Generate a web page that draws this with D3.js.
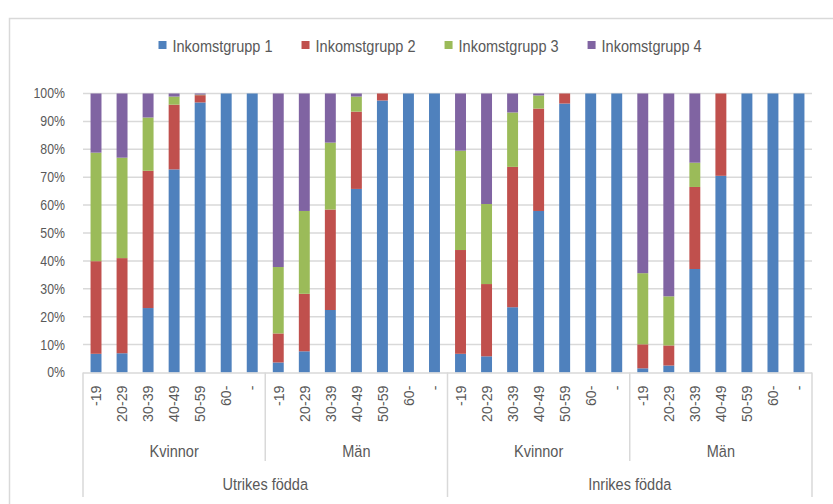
<!DOCTYPE html>
<html>
<head>
<meta charset="utf-8">
<script src="https://cdn.jsdelivr.net/npm/d3@7"></script>
<style>
  html, body { margin: 0; padding: 0; background: #fff; }
  svg { display: block; font-family: "Liberation Sans", Arial, sans-serif; }
</style>
</head>
<body>
<svg id="chart" width="833" height="504"></svg>
<script>
// Födelseland, kön och åldersgrupp
const origins = ["Utrikes födda", "Inrikes födda"];
const sexes = ["Kvinnor", "Män"];
const ages = ["-19", "20-29", "30-39", "40-49", "50-59", "60-", "-"];
const seriesNames = ["Inkomstgrupp 1", "Inkomstgrupp 2", "Inkomstgrupp 3", "Inkomstgrupp 4"];
const seriesColors = ["#4F81BD", "#C0504D", "#9BBB59", "#8064A2"];
const yTicks = [0, 10, 20, 30, 40, 50, 60, 70, 80, 90, 100];

// Andel (%) per stapel: Utrikes Kvinnor, Utrikes Män, Inrikes Kvinnor, Inrikes Män
const grupp1 = [6.7, 6.9, 23.1, 72.8, 96.8, 100, 100,
                3.6, 7.6, 22.4, 65.8, 97.5, 100, 100,
                6.7, 5.8, 23.4, 57.9, 96.4, 100, 100,
                1.5, 2.5, 37.1, 70.5, 100, 100, 100];
const grupp2 = [33.2, 34.1, 49.2, 23.2, 2.6, 0, 0,
                10.4, 20.6, 36.0, 27.7, 2.5, 0, 0,
                37.2, 25.9, 50.3, 36.7, 3.6, 0, 0,
                8.6, 7.2, 29.4, 29.5, 0, 0, 0];
const grupp3 = [38.9, 36.0, 19.1, 2.9, 0.2, 0, 0,
                23.8, 29.7, 24.0, 5.4, 0, 0, 0,
                35.6, 28.7, 19.5, 4.7, 0, 0, 0,
                25.5, 17.6, 8.7, 0, 0, 0, 0];
const grupp4 = [21.2, 23.0, 8.6, 1.1, 0.4, 0, 0,
                62.2, 42.1, 17.6, 1.1, 0, 0, 0,
                20.5, 39.6, 6.8, 0.7, 0, 0, 0,
                64.4, 72.7, 24.8, 0, 0, 0, 0];

const seriesValues = [grupp1, grupp2, grupp3, grupp4];

// Rows for the stack
const rows = [];
origins.forEach((o) => sexes.forEach((s) => ages.forEach((a) => {
  const idx = rows.length;
  const r = { idx, origin: o, sex: s, age: a };
  seriesNames.forEach((n, k) => { r[n] = seriesValues[k][idx]; });
  rows.push(r);
})));

const svg = d3.select("#chart");
const textColor = "#595959";
const lineColor = "#d9d9d9";
const narrow = 0.88; // horizontal squeeze for a condensed look

const plotLeft = 83, plotRight = 812, plotTop = 93.5, plotBottom = 372.5;

const x = d3.scaleBand()
  .domain(rows.map(d => d.idx))
  .range([plotLeft, plotRight])
  .paddingInner(0.58)
  .paddingOuter(0.29);

const y = d3.scaleLinear().domain([0, 100]).range([plotBottom, plotTop]);

// Places a text at (px, py) squeezed horizontally
function placeNarrow(sel, px, py) {
  sel.attr("x", 0).attr("y", 0)
    .attr("transform", (d, i) => {
      const xx = typeof px === "function" ? px(d, i) : px;
      const yy = typeof py === "function" ? py(d, i) : py;
      return `translate(${xx},${yy}) scale(${narrow},1)`;
    });
}

// Chart frame
svg.append("rect")
  .attr("x", 9.5).attr("y", 18.5)
  .attr("width", 900).attr("height", 600)
  .attr("fill", "none").attr("stroke", lineColor).attr("stroke-width", 1.5);

// Gridlines
svg.append("g").selectAll("line")
  .data(yTicks.filter(t => t > 0))
  .join("line")
  .attr("x1", plotLeft).attr("x2", plotRight)
  .attr("y1", d => y(d)).attr("y2", d => y(d))
  .attr("stroke", lineColor).attr("stroke-width", 1.5);

// Y axis labels
const yAxis = d3.axisLeft(y).tickValues(yTicks).tickFormat(d => d + "%").tickSize(0).tickPadding(0);
const gy = svg.append("g").attr("transform", `translate(${plotLeft - 18},0)`).call(yAxis);
gy.select(".domain").remove();
gy.selectAll("text")
  .attr("fill", textColor)
  .style("font-size", "14px")
  .style("font-family", "inherit")
  .attr("x", 0)
  .attr("transform", `scale(${narrow},1)`);

// Stacked bars
const stack = d3.stack().keys(seriesNames);
const layers = stack(rows);
svg.append("g").selectAll("g")
  .data(layers)
  .join("g")
  .attr("fill", (d, i) => seriesColors[i])
  .selectAll("rect")
  .data(d => d)
  .join("rect")
  .attr("x", d => x(d.data.idx))
  .attr("width", x.bandwidth())
  .attr("y", d => y(d[1]))
  .attr("height", d => Math.max(0, y(d[0]) - y(d[1])));

// Category axis baseline
svg.append("line")
  .attr("x1", plotLeft).attr("x2", plotRight)
  .attr("y1", plotBottom + 0.5).attr("y2", plotBottom + 0.5)
  .attr("stroke", lineColor).attr("stroke-width", 1.5);

// Age tick labels (rotated)
const xAxis = d3.axisBottom(x).tickFormat(i => rows[i].age).tickSize(0).tickPadding(0);
const gx = svg.append("g").attr("transform", `translate(0,${plotBottom})`).call(xAxis);
gx.select(".domain").remove();
gx.selectAll("text")
  .attr("fill", textColor)
  .style("font-size", "15px")
  .style("font-family", "inherit")
  .attr("text-anchor", "end")
  .attr("transform", `rotate(-90) scale(0.95,1)`)
  .attr("x", -13 / 0.95)
  .attr("y", 0)
  .attr("dy", "0.35em");

// Group separators
const step = x.step();
const boundaryX = i => plotLeft + i * step;
const seps = [
  { i: 0, y2: 497 }, { i: 7, y2: 461 }, { i: 14, y2: 497 }, { i: 21, y2: 461 }, { i: 28, y2: 497 }
];
svg.append("g").selectAll("line")
  .data(seps)
  .join("line")
  .attr("x1", d => boundaryX(d.i)).attr("x2", d => boundaryX(d.i))
  .attr("y1", plotBottom).attr("y2", d => d.y2)
  .attr("stroke", lineColor).attr("stroke-width", 1.5);

// Sex labels
const sexLabels = [];
origins.forEach((o, oi) => sexes.forEach((s, si) => sexLabels.push({ s, k: oi * 2 + si })));
svg.append("g").selectAll("text")
  .data(sexLabels)
  .join("text")
  .attr("text-anchor", "middle")
  .attr("fill", textColor)
  .style("font-size", "16.5px")
  .text(d => d.s)
  .call(placeNarrow, d => boundaryX(d.k * 7 + 3.5), 457);

// Origin labels
svg.append("g").selectAll("text")
  .data(origins)
  .join("text")
  .attr("text-anchor", "middle")
  .attr("fill", textColor)
  .style("font-size", "16.5px")
  .text(d => d)
  .call(placeNarrow, (d, i) => boundaryX(i * 14 + 7), 490);

// Legend
const legend = svg.append("g");
let lx = 158.5;
seriesNames.forEach((n, i) => {
  const g = legend.append("g").attr("transform", `translate(${lx},0)`);
  g.append("rect").attr("x", 0).attr("y", 41).attr("width", 8).attr("height", 8).attr("fill", seriesColors[i]);
  const t = g.append("text")
    .attr("fill", textColor).style("font-size", "16.5px").text(n)
    .call(placeNarrow, 14, 51.5);
  lx += 14 + t.node().getComputedTextLength() * narrow + 29;
});
</script>
</body>
</html>
